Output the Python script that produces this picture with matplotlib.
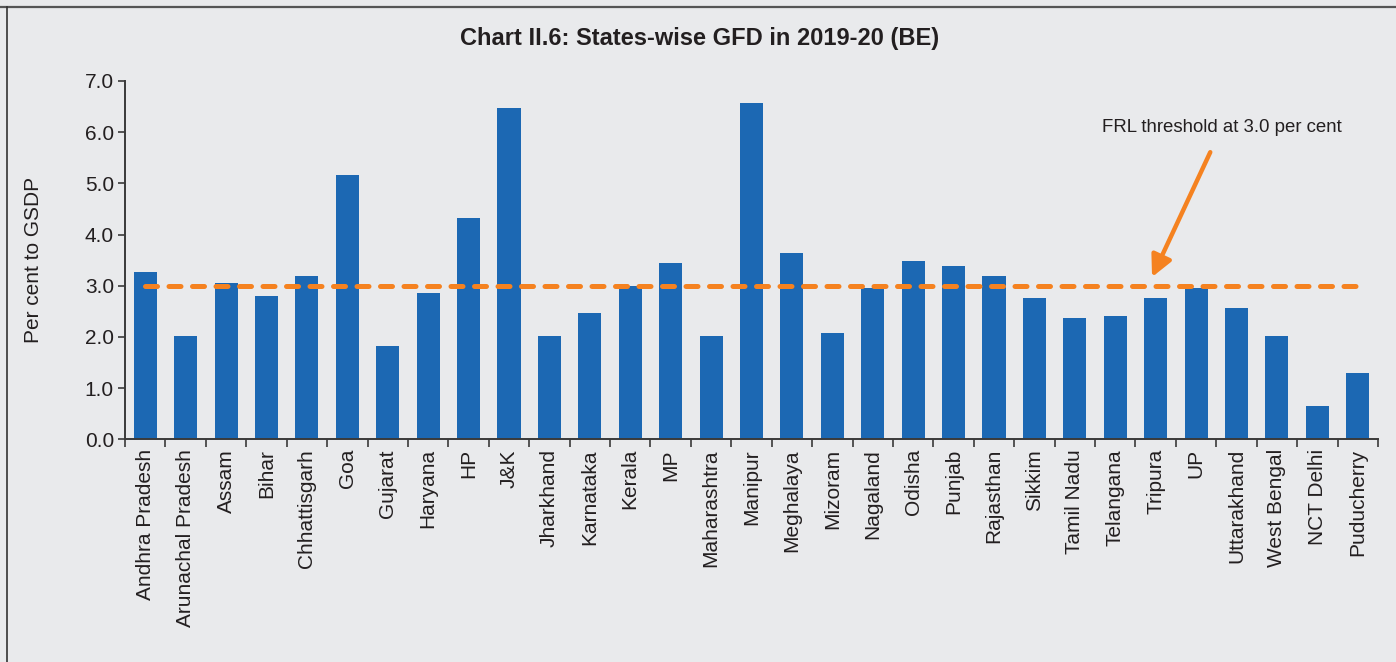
import matplotlib

matplotlib.use("Agg")

import matplotlib.pyplot as plt
from matplotlib.lines import Line2D

states = [
    "Andhra Pradesh", "Arunachal Pradesh", "Assam", "Bihar", "Chhattisgarh",
    "Goa", "Gujarat", "Haryana", "HP", "J&K", "Jharkhand", "Karnataka",
    "Kerala", "MP", "Maharashtra", "Manipur", "Meghalaya", "Mizoram",
    "Nagaland", "Odisha", "Punjab", "Rajasthan", "Sikkim", "Tamil Nadu",
    "Telangana", "Tripura", "UP", "Uttarakhand", "West Bengal", "NCT Delhi",
    "Puducherry",
]
gfd = [
    3.26, 2.02, 3.06, 2.80, 3.19, 5.16, 1.82, 2.86, 4.33, 6.47,
    2.02, 2.47, 2.99, 3.45, 2.02, 6.57, 3.64, 2.08, 2.96, 3.48,
    3.39, 3.19, 2.76, 2.37, 2.41, 2.76, 2.96, 2.57, 2.02, 0.65,
    1.30,
]
frl_threshold = 3.0
y_ticks = [0, 1, 2, 3, 4, 5, 6, 7]

BG = "#e9eaec"
BAR = "#1c68b3"
ORANGE = "#f58220"
INK = "#231f20"

plt.rcParams["font.family"] = ["Liberation Sans", "DejaVu Sans"]

fig = plt.figure(figsize=(13.96, 6.62), dpi=100, facecolor=BG)
ax = fig.add_axes([125 / 1396, 222.7 / 662, 1253 / 1396, 358.3 / 662], facecolor=BG)

x = list(range(len(states)))
ax.bar(x, gfd, width=0.57, color=BAR, zorder=2)
ax.plot([0, len(states) - 1], [frl_threshold, frl_threshold], color=ORANGE,
        lw=3.6, linestyle=(0, (2.4, 2.3)), dash_capstyle="round", zorder=3)

ax.set_xlim(-0.5, len(states) - 0.5)
ax.set_ylim(0, 7)
ax.set_yticks(y_ticks)
ax.set_yticklabels([f"{v:.1f}" for v in y_ticks], fontsize=15, color=INK)
ax.set_xticks(x)
ax.set_xticklabels(states, rotation=90, fontsize=15, color=INK)
ax.set_xticks([i - 0.5 for i in range(len(states) + 1)], minor=True)
ax.tick_params(axis="x", which="major", length=0, pad=7)
ax.tick_params(axis="x", which="minor", length=6, width=1.2, color="#3a3a3a")
ax.tick_params(axis="y", length=5, width=1.2, color="#3a3a3a", pad=3)

for side in ("top", "right"):
    ax.spines[side].set_visible(False)
for side in ("left", "bottom"):
    ax.spines[side].set_color("#3a3a3a")
    ax.spines[side].set_linewidth(1.4)

ax.set_ylabel("Per cent to GSDP", fontsize=15, color=INK)
ax.yaxis.set_label_coords(-0.0654, 0.5)

ax.annotate("FRL threshold at 3.0 per cent", xy=(24.91, 3.17), xytext=(26.64, 6.10),
            ha="center", va="center", fontsize=13.4, color=INK,
            arrowprops=dict(arrowstyle="-|>", color=ORANGE, lw=3.2,
                            mutation_scale=32, shrinkA=11, shrinkB=0))

fig.text(700 / 1396, 1 - 38 / 662, "Chart II.6: States-wise GFD in 2019-20 (BE)",
         ha="center", va="center", fontsize=17, fontweight="bold", color=INK,
         family=["Liberation Sans Narrow", "Liberation Sans", "DejaVu Sans"])

# frame lines along the top and left edges
fig.add_artist(Line2D([0, 1], [1 - 7 / 662] * 2, transform=fig.transFigure,
                      color="#555555", lw=1.6))
fig.add_artist(Line2D([6.5 / 1396] * 2, [0, 1 - 7 / 662], transform=fig.transFigure,
                      color="#333333", lw=1.2))

fig.savefig("out.png", dpi=100, facecolor=BG)
